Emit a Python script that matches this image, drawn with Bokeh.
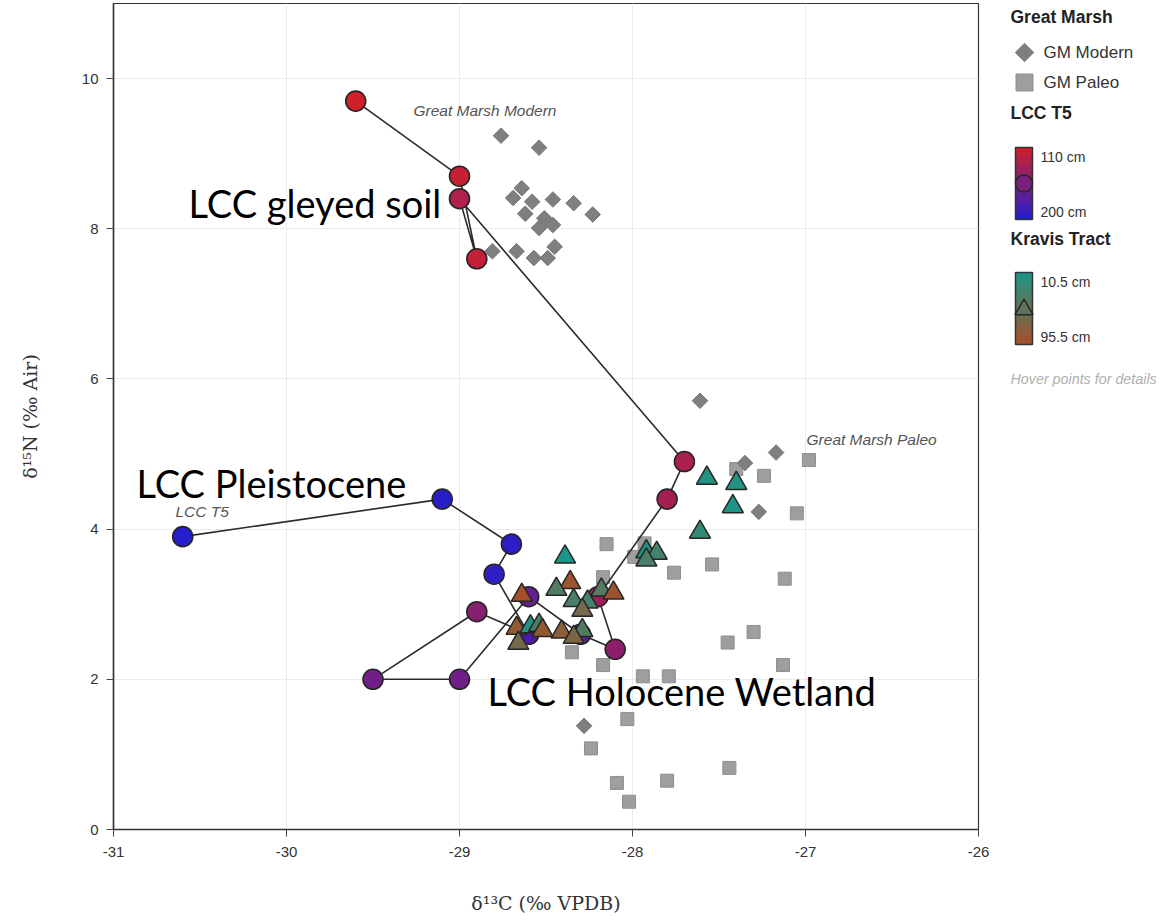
import numpy as np
from bokeh.plotting import figure
from bokeh.layouts import row
from bokeh.models import ColumnDataSource, Range1d, FixedTicker
from bokeh.transform import linear_cmap
from bokeh.core.properties import value
from bokeh.embed import file_html
from bokeh.resources import INLINE

# ---------------- data ----------------
gm_modern_x = [-28.76, -28.54, -28.64, -28.69, -28.58, -28.46, -28.34, -28.23, -28.62, -28.51,
               -28.46, -28.54, -28.81, -28.67, -28.57, -28.49, -28.45,
               -27.61, -27.35, -27.17, -27.27, -28.28]
gm_modern_y = [9.24, 9.08, 8.54, 8.41, 8.36, 8.39, 8.34, 8.19, 8.20, 8.14,
               8.05, 8.01, 7.70, 7.70, 7.61, 7.61, 7.76,
               5.71, 4.88, 5.02, 4.23, 1.38]

gm_paleo_x = [-27.40, -27.24, -26.98, -27.05, -28.15, -27.93, -27.99, -27.54, -27.76, -27.12,
              -28.17, -28.35, -28.17, -27.45, -27.30, -27.13, -27.94, -27.79,
              -28.03, -28.24, -27.44, -28.09, -27.80, -28.02]
gm_paleo_y = [4.80, 4.71, 4.92, 4.21, 3.80, 3.81, 3.63, 3.53, 3.42, 3.34,
              3.36, 2.36, 2.19, 2.49, 2.63, 2.19, 2.04, 2.04,
              1.47, 1.08, 0.82, 0.62, 0.65, 0.37]

# LCC T5 (in core order, depth in cm)
lcc_x = [-29.6, -29.0, -28.9, -29.0, -27.7, -27.8, -28.2, -28.1, -28.3, -28.6,
         -29.0, -29.5, -28.9, -28.6, -28.8, -28.7, -29.1, -30.6]
lcc_y = [9.7, 8.7, 7.6, 8.4, 4.9, 4.4, 3.1, 2.4, 2.6, 3.1,
         2.0, 2.0, 2.9, 2.6, 3.4, 3.8, 4.4, 3.9]
lcc_depth = [110, 115, 118, 128, 130, 133, 136, 146, 172, 166,
             161, 161, 149, 182, 195, 196, 198, 200]

# Kravis Tract
kravis_x = [-27.57, -27.40, -27.42, -27.61, -27.92, -27.86, -27.92, -28.39, -28.36, -28.44,
            -28.18, -28.11, -28.34, -28.26, -28.29, -28.29, -28.41, -28.34, -28.64, -28.67,
            -28.59, -28.54, -28.52, -28.66]
kravis_y = [4.68, 4.61, 4.30, 3.96, 3.70, 3.68, 3.59, 3.63, 3.29, 3.20,
            3.19, 3.15, 3.05, 3.03, 2.92, 2.65, 2.63, 2.56, 3.12, 2.68,
            2.70, 2.72, 2.65, 2.48]
kravis_depth = [15, 15, 12, 25, 15, 35, 40, 10.5, 90, 45,
                45, 90, 40, 35, 65, 45, 80, 70, 95.5, 85,
                15, 40, 85, 65]

x_ticks = [-31, -30, -29, -28, -27, -26]
y_ticks = [0, 2, 4, 6, 8, 10]

region_labels = ["LCC gleyed soil", "LCC Pleistocene", "LCC Holocene Wetland"]
region_x = [-30.566, -30.867, -28.838]
region_y = [8.34, 4.61, 1.85]

group_labels = ["Great Marsh Modern", "Great Marsh Paleo", "LCC T5"]
group_x = [-29.266, -26.994, -30.642]
group_y = [9.57, 5.20, 4.24]

LCC_TOP, LCC_BOT = (210, 32, 42), (36, 30, 205)
KR_TOP, KR_BOT = (28, 150, 136), (165, 80, 42)


def ramp(c1, c2, n=256):
    out = []
    for i in range(n):
        t = i / (n - 1)
        r, g, b = (int(round(c1[k] + (c2[k] - c1[k]) * t)) for k in range(3))
        out.append("#%02x%02x%02x" % (r, g, b))
    return out


lcc_pal = ramp(LCC_TOP, LCC_BOT)
kr_pal = ramp(KR_TOP, KR_BOT)

# ---------------- main figure ----------------
p = figure(width=998, height=916, x_range=Range1d(-31, -26), y_range=Range1d(0, 11.0),
           output_backend="svg", toolbar_location=None,
           min_border_left=113, min_border_right=20, min_border_top=3, min_border_bottom=87)
p.background_fill_color = "white"
p.border_fill_color = "white"
p.outline_line_color = "#333333"
p.outline_line_width = 1.2

p.xaxis.ticker = FixedTicker(ticks=x_ticks)
p.yaxis.ticker = FixedTicker(ticks=y_ticks)
p.xaxis.major_label_overrides = {t: str(t) for t in x_ticks}
p.yaxis.major_label_overrides = {t: str(t) for t in y_ticks}
for ax in (p.xaxis[0], p.yaxis[0]):
    ax.minor_tick_line_color = None
    ax.major_tick_out = 7
    ax.major_tick_in = 0
    ax.major_tick_line_color = "#444444"
    ax.axis_line_color = "#333333"
    ax.axis_line_width = 1.5
    ax.major_label_text_font = "Liberation Sans"
    ax.major_label_text_font_size = "15px"
    ax.major_label_text_color = "#333333"
    ax.axis_label_text_font = "DejaVu Serif"
    ax.axis_label_text_font_size = "19px"
    ax.axis_label_text_font_style = "normal"
    ax.axis_label_text_color = "#333333"
p.xaxis.axis_label = "δ¹³C (‰ VPDB)"
p.yaxis.axis_label = "δ¹⁵N (‰ Air)"
p.xaxis.major_label_standoff = 10
p.yaxis.major_label_standoff = 8
p.xaxis.axis_label_standoff = 32
p.yaxis.axis_label_standoff = 38

p.xgrid.grid_line_color = "#ebebeb"
p.ygrid.grid_line_color = "#ebebeb"

# Great Marsh
p.scatter(gm_paleo_x, gm_paleo_y, marker="square", size=13,
          fill_color="#9e9e9e", line_color="#8e8e8e", line_width=1)
p.scatter(gm_modern_x, gm_modern_y, marker="square", size=11, angle=np.pi / 4,
          fill_color="#7f7f7f", line_color="#777777", line_width=1)

# LCC T5
lcc_src = ColumnDataSource(dict(x=lcc_x, y=lcc_y, d=lcc_depth))
p.line("x", "y", source=lcc_src, line_color="#2b2b2b", line_width=1.6)
p.scatter("x", "y", source=lcc_src, marker="circle", size=20,
          fill_color=linear_cmap("d", lcc_pal, 110, 200),
          line_color="#262626", line_width=1.6)

# Kravis Tract
kr_src = ColumnDataSource(dict(x=kravis_x, y=kravis_y, d=kravis_depth))
p.scatter("x", "y", source=kr_src, marker="triangle", size=21,
          fill_color=linear_cmap("d", kr_pal, 10.5, 95.5),
          line_color="#262626", line_width=1.5)

# labels
p.text(group_x, group_y, text=group_labels, text_font=value("Liberation Sans"),
       text_font_size="15.5px", text_font_style="italic", text_color="#555555",
       text_baseline="alphabetic")
p.text(region_x, region_y, text=region_labels, text_font=value("Lato"),
       text_font_size="38px", text_color="#000000", text_baseline="alphabetic")

# ---------------- legend panel ----------------
# frame of this panel is aligned with the main frame (page y 3..829)
L = figure(width=165, height=916, x_range=Range1d(0, 165), y_range=Range1d(829, 3),
           output_backend="svg", toolbar_location=None,
           min_border=0, min_border_left=0, min_border_right=0,
           min_border_top=3, min_border_bottom=87)
L.axis.visible = False
L.grid.visible = False
L.outline_line_color = None

head_font = value("Liberation Sans")
L.text([12, 12, 12], [16, 112, 238], text=["Great Marsh", "LCC T5", "Kravis Tract"],
       text_font=head_font, text_font_size="17.5px", text_font_style="bold",
       text_color="#222222", text_baseline="middle")
L.scatter([26], [52], marker="square", size=13, angle=np.pi / 4,
          fill_color="#7f7f7f", line_color="#777777")
L.scatter([26], [82], marker="square", size=17,
          fill_color="#9e9e9e", line_color="#8e8e8e")
L.text([45, 45], [52, 82], text=["GM Modern", "GM Paleo"], text_font=head_font,
       text_font_size="17px", text_color="#333333", text_baseline="middle")


def bar(y0, y1, pal):
    n = int(y1 - y0)
    ys = np.arange(n)
    cols = [pal[int(round(i * (len(pal) - 1) / (n - 1)))] for i in ys]
    L.quad(left=17, right=34, top=list(y0 + ys), bottom=list(y0 + ys + 1),
           fill_color=cols, line_color=cols, line_width=1)
    L.quad(left=[17], right=[34], top=[y0], bottom=[y1], fill_color=None,
           line_color="#333333", line_width=1.5)
    return pal[len(pal) // 2]


mid1 = bar(147, 219, lcc_pal)
L.scatter([25.5], [183], marker="circle", size=17, fill_color=mid1,
          line_color="#262626", line_width=1.5)
mid2 = bar(272, 344, kr_pal)
L.scatter([25.5], [309], marker="triangle", size=18, fill_color=mid2,
          line_color="#262626", line_width=1.5)
L.text([42, 42, 42, 42], [156, 211, 281, 336],
       text=["110 cm", "200 cm", "10.5 cm", "95.5 cm"], text_font=head_font,
       text_font_size="14px", text_color="#333333", text_baseline="middle")
L.text([12], [378], text=["Hover points for details"], text_font=head_font,
       text_font_size="14.3px", text_font_style="italic", text_color="#b0b0b0",
       text_baseline="middle")

layout = row(p, L)
open("out.html", "w").write(file_html(layout, INLINE))
